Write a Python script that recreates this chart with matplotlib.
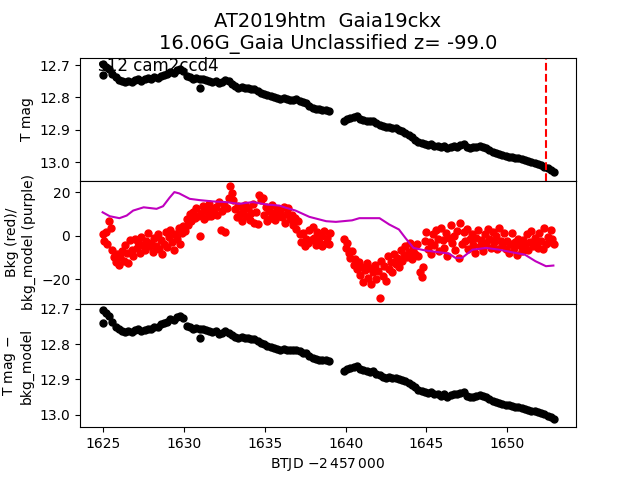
import numpy as np
import matplotlib
matplotlib.use('Agg')
import matplotlib.pyplot as plt

# tiempos de cada segmento (cadencia fija)
t_mag_a = np.arange(1624.96, 1639.0, 0.2)      # 71 puntos
t_mag_b = np.arange(1639.90, 1652.95, 0.2)     # 66 puntos
t_bkg_a = np.arange(1624.96, 1639.1, 0.1)      # 142 puntos
t_bkg_b = np.arange(1639.90, 1652.95, 0.1)     # 131 puntos

tmag_a = [12.697, 12.705, 12.712, 12.728, 12.738, 12.745, 12.750, 12.752, 12.749, 12.752,
          12.746, 12.742, 12.749, 12.744, 12.740, 12.743, 12.737, 12.739, 12.733, 12.730,
          12.728, 12.722, 12.724, 12.716, 12.712, 12.718, 12.735, 12.738, 12.742, 12.739,
          12.744, 12.742, 12.747, 12.750, 12.752, 12.749, 12.756, 12.752, 12.745, 12.750,
          12.758, 12.766, 12.771, 12.769, 12.772, 12.770, 12.774, 12.773, 12.779, 12.786,
          12.791, 12.794, 12.796, 12.800, 12.802, 12.804, 12.801, 12.805, 12.807, 12.808,
          12.806, 12.811, 12.815, 12.818, 12.826, 12.833, 12.835, 12.837, 12.838, 12.840,
          12.842]
tmag_b = [12.872, 12.866, 12.863, 12.861, 12.858, 12.866, 12.869, 12.872, 12.874, 12.873,
          12.880, 12.884, 12.889, 12.893, 12.892, 12.896, 12.895, 12.900, 12.904, 12.910,
          12.915, 12.922, 12.931, 12.938, 12.942, 12.944, 12.946, 12.944, 12.949, 12.950,
          12.955, 12.951, 12.957, 12.954, 12.951, 12.953, 12.948, 12.945, 12.954, 12.958,
          12.955, 12.953, 12.950, 12.952, 12.957, 12.962, 12.968, 12.972, 12.974, 12.977,
          12.980, 12.983, 12.985, 12.987, 12.989, 12.991, 12.994, 12.997, 13.000, 13.003,
          13.006, 13.010, 13.014, 13.019, 13.024, 13.030]
tmag_out_t = [1625.00, 1630.97]
tmag_out = [12.730, 12.772]

corr_a = [12.703, 12.712, 12.720, 12.738, 12.750, 12.758, 12.764, 12.766, 12.763, 12.766,
          12.760, 12.757, 12.764, 12.760, 12.756, 12.758, 12.751, 12.751, 12.744, 12.740,
          12.737, 12.730, 12.731, 12.722, 12.719, 12.727, 12.748, 12.752, 12.756, 12.753,
          12.758, 12.756, 12.761, 12.764, 12.766, 12.764, 12.771, 12.768, 12.762, 12.767,
          12.773, 12.780, 12.783, 12.781, 12.784, 12.782, 12.786, 12.785, 12.790, 12.797,
          12.801, 12.804, 12.807, 12.812, 12.814, 12.816, 12.813, 12.816, 12.817, 12.818,
          12.816, 12.820, 12.824, 12.826, 12.834, 12.840, 12.842, 12.844, 12.844, 12.846,
          12.848]
corr_b = [12.876, 12.870, 12.867, 12.865, 12.862, 12.870, 12.873, 12.876, 12.878, 12.877,
          12.884, 12.887, 12.892, 12.896, 12.894, 12.897, 12.895, 12.899, 12.902, 12.906,
          12.910, 12.915, 12.923, 12.929, 12.933, 12.936, 12.938, 12.936, 12.941, 12.942,
          12.947, 12.943, 12.949, 12.945, 12.941, 12.943, 12.938, 12.935, 12.946, 12.951,
          12.949, 12.947, 12.944, 12.946, 12.951, 12.955, 12.961, 12.965, 12.966, 12.969,
          12.972, 12.974, 12.976, 12.978, 12.980, 12.982, 12.984, 12.987, 12.989, 12.991,
          12.993, 12.996, 12.999, 13.003, 13.007, 13.012]
corr_out_t = [1625.00, 1630.97]
corr_out = [12.741, 12.784]

bkg_a = [0.5, -2.5, 1.8, -4.0, 6.6, 3.5, -6.5, -9.8, -12.0, -8.5,
         -13.5, -10.0, -7.2, -11.8, -4.5, -8.0, -12.5, -2.0, -6.8, -9.5,
         -1.5, -5.5, -3.0, -8.0, -0.5, -4.2, -6.8, -2.5, 1.2, -5.0,
         -3.5, -7.5, -1.0, -4.8, 0.8, -6.2, -2.2, -8.5, -3.8, 1.5,
         -5.2, -0.5, 2.5, -3.0, -6.5, 0.5, -1.8, 3.5, -4.0, 1.0,
         4.5, 2.0, 7.5, 5.0, 9.8, 6.5, 11.0, 8.0, 12.5, 9.0,
         -0.3, 10.5, 13.5, 7.5, 11.8, 9.2, 14.5, 8.8, 12.0, 10.2,
         13.2, 9.5, 15.5, 2.5, 11.5, 14.0, 1.8, 12.8, 17.5, 22.8,
         19.5, 16.5, 12.0, 8.5, 13.5, 10.0, 6.5, 11.5, 14.0, 9.0,
         12.5, 7.0, 10.5, 14.5, 6.0, 11.0, 5.5, 18.8, 16.5, 17.5,
         9.5, 13.0, 6.5, 11.5, 8.0, 14.0, 10.5, 7.0, 12.2, 9.0,
         11.5, 8.5, 13.0, 6.0, 10.0, 12.5, 7.5, 9.5, 5.0, 8.0,
         3.0, 6.5, 0.5, -3.0, 1.2, -4.8, -1.5, -3.5, 2.5, -2.0,
         3.8, -1.0, -4.5, 1.5, -2.8, 0.0, -5.0, 2.0, -3.2, -1.2,
         -4.0, 1.0]
bkg_b = [-1.8, -5.5, -3.5, -8.0, -10.5, -7.0, -13.5, -11.0, -15.5, -12.0,
         -18.0, -14.5, -21.5, -16.0, -12.5, -19.5, -15.0, -22.5, -17.0, -13.5,
         -20.0, -16.5, -28.6, -11.5, -18.5, -14.0, -21.0, -9.5, -15.5, -12.0,
         -17.0, -8.5, -13.0, -10.5, -14.5, -6.5, -11.5, -9.0, -5.0, -10.0,
         -7.5, -3.5, -11.0, -6.0, -8.5, -4.0, -9.5, -17.0, -19.0, -14.5,
         -2.5, 1.5, -6.0, -3.0, -8.5, 0.5, -4.5, 2.5, -1.5, -7.0,
         3.5, -2.0, -5.5, 1.0, -9.5, -1.0, 5.0, -3.5, 0.0, -6.5,
         2.0, -10.5, 5.8, -4.0, 1.5, -2.5, 3.0, -6.0, -1.5, 0.8,
         -4.5, -8.0, -1.0, 2.5, -5.0, -2.0, -7.0, 0.5, -3.5, 3.0,
         -1.5, -5.5, 1.5, -3.0, 0.0, -6.0, 3.5, -2.5, -4.5, 1.0,
         -6.0, -2.5, -8.0, -4.0, 1.0, -5.5, -3.0, -9.0, -1.5, -4.5,
         -7.0, -2.0, -4.5, 0.5, -6.5, -3.0, 2.0, -5.0, -1.0, -3.5,
         -5.5, 1.0, -2.5, -6.0, 3.5, -4.0, -0.5, -3.0, 2.5, -1.5,
         -4.0]

model_t = [1624.96, 1625.4, 1626.0, 1626.45, 1626.85, 1627.5, 1628.3, 1628.7, 1629.1, 1629.4,
           1629.7, 1630.35, 1630.97, 1631.8, 1632.6, 1633.4, 1634.25, 1635.1, 1635.9, 1636.3,
           1636.9, 1637.76, 1638.8, 1639.4, 1640.4, 1640.85, 1642.1, 1642.7, 1643.3, 1643.7,
           1644.2, 1644.96, 1645.8, 1646.4, 1646.8, 1647.2, 1647.85, 1648.7, 1649.5, 1650.3,
           1651.1, 1651.75, 1652.4, 1652.86]
model = [10.7, 8.9, 8.0, 9.2, 11.5, 13.0, 12.3, 13.5, 17.4, 20.0,
         19.4, 16.9, 16.3, 15.7, 15.4, 14.6, 15.4, 14.3, 13.8, 12.8,
         11.5, 8.6, 6.6, 6.3, 7.0, 8.0, 8.0, 5.1, 2.8, -1.1,
         -5.7, -6.9, -7.7, -8.3, -10.3, -10.3, -6.5, -5.7, -6.5, -7.7,
         -8.8, -11.8, -14.1, -13.8]

t_evento = 1652.4

fig = plt.figure(figsize=(6.4, 4.8), dpi=100)
ax1 = fig.add_subplot(311)
ax2 = fig.add_subplot(312, sharex=ax1)
ax3 = fig.add_subplot(313, sharex=ax1)
fig.subplots_adjust(hspace=0)

ms = 5
ax1.plot(t_mag_a, tmag_a, 'ko', ms=ms)
ax1.plot(t_mag_b, tmag_b, 'ko', ms=ms)
ax1.plot(tmag_out_t, tmag_out, 'ko', ms=ms)
ax1.axvline(t_evento, color='r', ls='--', lw=1.5)
ax1.set_ylim(13.058, 12.677)
ax1.set_yticks([12.7, 12.8, 12.9, 13.0])
ax1.set_ylabel('T mag')
ax1.set_title('AT2019htm  Gaia19ckx\n16.06G_Gaia Unclassified z= -99.0', fontsize=14)
ax1.text(0.036, 0.894, 's12 cam2ccd4', transform=ax1.transAxes, fontsize=12, va='baseline')
ax1.tick_params(bottom=False, labelbottom=False)

ax2.plot(t_bkg_a, bkg_a, 'ro', ms=ms)
ax2.plot(t_bkg_b, bkg_b, 'ro', ms=ms)
ax2.plot(model_t, model, color='m', lw=1.5)
ax2.set_ylim(-31.5, 25.2)
ax2.set_yticks([-20, 0, 20])
ax2.set_ylabel('Bkg (red)/\nbkg_model (purple)')
ax2.tick_params(bottom=False, labelbottom=False)

ax3.plot(t_mag_a, corr_a, 'ko', ms=ms)
ax3.plot(t_mag_b, corr_b, 'ko', ms=ms)
ax3.plot(corr_out_t, corr_out, 'ko', ms=ms)
ax3.set_ylim(13.036, 12.686)
ax3.set_yticks([12.7, 12.8, 12.9, 13.0])
ax3.set_ylabel('T mag $-$\nbkg_model')
ax3.set_xlim(1623.56, 1654.26)
ax3.set_xticks([1625, 1630, 1635, 1640, 1645, 1650])
ax3.set_xlabel(r'BTJD $-2\,457\,000$')

fig.savefig('out.png', dpi=100)
